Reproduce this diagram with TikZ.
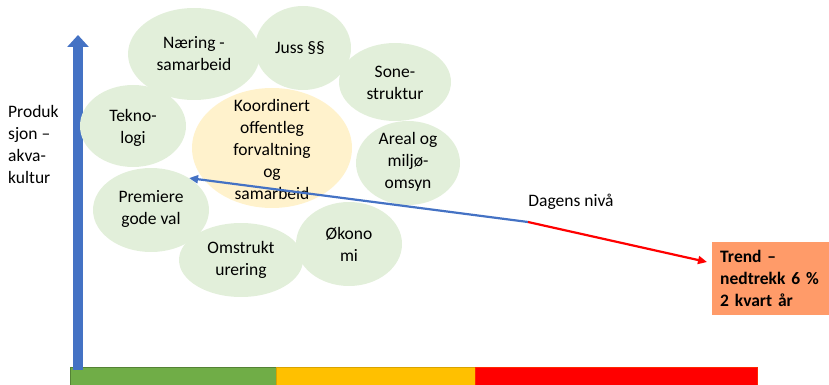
\documentclass[tikz,border=0pt]{standalone}
\usepackage{fontspec}
\setmainfont{Carlito}
\usetikzlibrary{shapes.geometric,arrows.meta}
\definecolor{bubgreen}{HTML}{E2EFDA}
\definecolor{bubyellow}{HTML}{FFF2CC}
\definecolor{axblue}{HTML}{4472C4}
\definecolor{bargreen}{HTML}{70AD47}
\definecolor{baryellow}{HTML}{FFC000}
\definecolor{barred}{HTML}{FF0000}
\definecolor{boxorange}{HTML}{FF9B69}
\tikzset{
  bub/.style={ellipse, fill=bubgreen, inner sep=0pt},
  kbub/.style={ellipse, fill=bubyellow, inner sep=0pt},
  txt/.style={align=center, inner sep=0pt, font=\fontsize{17.5}{22}\selectfont},
  ltxt/.style={align=left, inner sep=0pt, font=\fontsize{17.5}{22}\selectfont},
  barseg/.style={draw, line width=0.6pt},
  conn/.style={line width=2.2pt, -{Triangle[length=9pt,width=8pt]}},
}
\begin{document}
\begin{tikzpicture}[x=1pt,y=-1pt]
\useasboundingbox (0,0) rectangle (829,385);
% colour bar
\draw[barseg, fill=bargreen, draw=bargreen!75!black] (70,367) rectangle (276,390);
\draw[barseg, fill=baryellow, draw=baryellow!85!black] (276,367) rectangle (475,390);
\draw[barseg, fill=barred, draw=barred!70!orange] (475,367) rectangle (757,390);
% axis
\coordinate (axb) at (78,370);
\coordinate (axt) at (78,35);
\draw[axblue, line width=10pt, -{Triangle[length=12pt,width=21pt]}] (axb) -- (axt);
\node[ltxt, anchor=west] (ylab) at (8,144) {Produk\\sjon –\\akva-\\kultur};
% bubbles
\node[bub, minimum width=132pt, minimum height=92pt] (naer) at (194,54) {};
\node[bub, minimum width=96pt, minimum height=84pt] (juss) at (303,48) {};
\node[bub, minimum width=112pt, minimum height=78pt] (sone) at (395,82) {};
\node[bub, minimum width=104pt, minimum height=84pt] (areal) at (408,163) {};
\node[bub, minimum width=106pt, minimum height=82pt] (tekn) at (133,126) {};
\node[bub, minimum width=116pt, minimum height=84pt] (prem) at (151,210) {};
\node[bub, minimum width=124pt, minimum height=74pt] (omst) at (241,260) {};
\node[bub, minimum width=106pt, minimum height=84pt] (okon) at (349,244) {};
\node[kbub, minimum width=160pt, minimum height=120pt] (koord) at (272,148) {};
% bubble texts
\node[txt] (naert) at (naer) {Næring -\\samarbeid};
\node[txt] (josst) at (300,48) {Juss §§};
\node[txt] (sonet) at (395,83) {Sone-\\struktur};
\node[txt] (arealt) at (408,162) {Areal og\\miljø-\\omsyn};
\node[txt] (teknt) at (133,128) {Tekno-\\logi};
\node[txt] (premt) at (151,209) {Premiere\\gode val};
\node[txt] (omstt) at (241,260) {Omstrukt\\urering};
\node[txt] (okont) at (349,244) {Økono\\mi};
\node[txt] (koordt) at (272,149) {Koordinert\\offentleg\\forvaltning\\og\\samarbeid};
% trend
\coordinate (dag) at (528,222);
\coordinate (trendtip) at (707,262);
\node[txt] (dagt) at (571,202) {Dagens nivå};
\draw[conn, axblue] (dag) -- (prem.40);
\draw[conn, barred] (dag) -- (trendtip);
\node[ltxt, fill=boxorange, anchor=north west, minimum width=117pt, minimum height=73pt, text width=105pt, inner xsep=8pt, font=\fontsize{17.5}{22}\selectfont\bfseries] (trend) at (712,242) {Trend –\\nedtrekk 6 \%\\2 kvart år};
\end{tikzpicture}
\end{document}
